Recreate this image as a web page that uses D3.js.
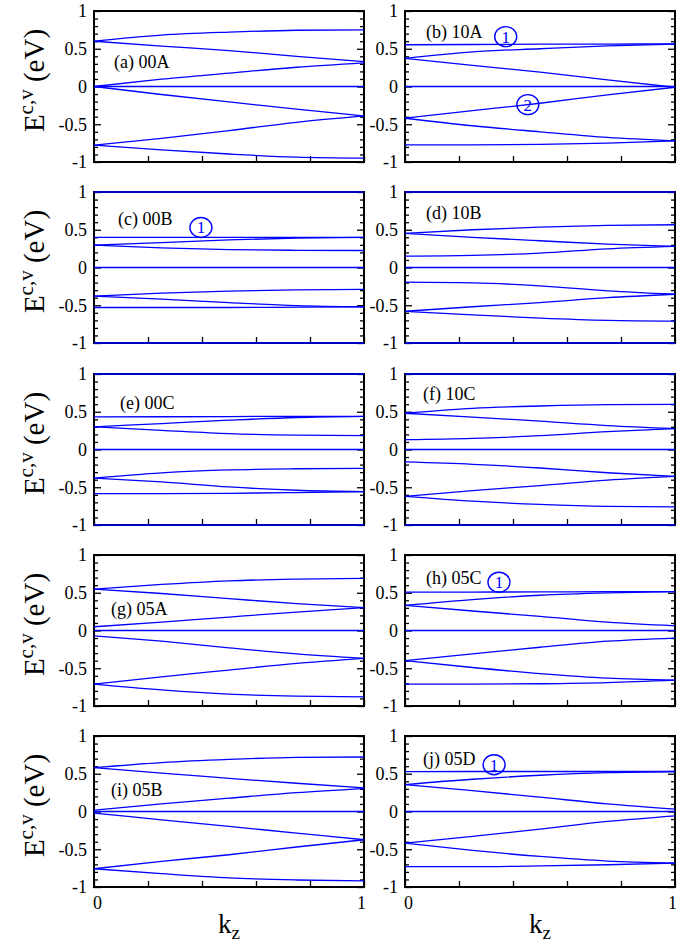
<!DOCTYPE html>
<html>
<head>
<meta charset="utf-8">
<script src="https://cdnjs.cloudflare.com/ajax/libs/d3/7.8.5/d3.min.js"></script>
<style>
  body { margin: 0; background: #fff; }
  text { font-family: "Liberation Serif", "Times New Roman", serif; }
</style>
</head>
<body>
<svg id="chart" width="695" height="945"></svg>
<script>
// k_z sample points (fraction of the zone)
const kz = [0, 0.25, 0.5, 0.75, 1];

// band energies (eV) at each kz sample, one row per band
const bandsA = [
  [0.60, 0.68, 0.72, 0.745, 0.75],
  [0.60, 0.535, 0.475, 0.40, 0.33],
  [0, 0.097, 0.177, 0.255, 0.314],
  [0, 0, 0, 0, 0],
  [0, -0.106, -0.205, -0.30, -0.39],
  [-0.776, -0.686, -0.584, -0.475, -0.39],
  [-0.776, -0.84, -0.894, -0.936, -0.95]
];
const bandsB = [
  [0.553, 0.556, 0.56, 0.562, 0.564],
  [0.373, 0.458, 0.50, 0.538, 0.562],
  [0.373, 0.28, 0.19, 0.089, -0.01],
  [0, 0, 0, 0, 0],
  [-0.42, -0.32, -0.222, -0.11, -0.01],
  [-0.42, -0.52, -0.60, -0.675, -0.72],
  [-0.773, -0.772, -0.766, -0.75, -0.72]
];
const bandsC = [
  [0.40, 0.40, 0.40, 0.40, 0.40],
  [0.296, 0.33, 0.365, 0.39, 0.40],
  [0.296, 0.26, 0.237, 0.228, 0.225],
  [0, 0, 0, 0, 0],
  [-0.38, -0.34, -0.314, -0.296, -0.29],
  [-0.38, -0.42, -0.465, -0.504, -0.52],
  [-0.53, -0.53, -0.53, -0.526, -0.52],
  [1, 1, 1, 1, 1],
  [-1, -1, -1, -1, -1]
];
const bandsD = [
  [0.451, 0.50, 0.535, 0.557, 0.566],
  [0.451, 0.40, 0.354, 0.31, 0.28],
  [0.15, 0.16, 0.19, 0.248, 0.28],
  [0, 0, 0, 0, 0],
  [-0.195, -0.204, -0.243, -0.31, -0.354],
  [-0.58, -0.52, -0.465, -0.40, -0.354],
  [-0.58, -0.628, -0.67, -0.70, -0.71],
  [1, 1, 1, 1, 1],
  [-1, -1, -1, -1, -1]
];
const bandsE = [
  [0.433, 0.434, 0.436, 0.44, 0.44],
  [0.30, 0.344, 0.388, 0.424, 0.44],
  [0.30, 0.254, 0.21, 0.19, 0.183],
  [0, 0, 0, 0, 0],
  [-0.38, -0.31, -0.27, -0.255, -0.25],
  [-0.38, -0.43, -0.496, -0.54, -0.558],
  [-0.585, -0.585, -0.58, -0.57, -0.558],
  [1, 1, 1, 1, 1],
  [-1, -1, -1, -1, -1]
];
const bandsF = [
  [0.48, 0.545, 0.576, 0.594, 0.598],
  [0.48, 0.43, 0.375, 0.317, 0.277],
  [0.13, 0.147, 0.183, 0.237, 0.277],
  [0, 0, 0, 0, 0],
  [-0.165, -0.196, -0.245, -0.308, -0.357],
  [-0.62, -0.545, -0.478, -0.406, -0.357],
  [-0.62, -0.683, -0.728, -0.754, -0.76],
  [1, 1, 1, 1, 1],
  [-1, -1, -1, -1, -1]
];
const bandsG = [
  [0.547, 0.61, 0.658, 0.68, 0.69],
  [0.547, 0.49, 0.422, 0.356, 0.302],
  [0.049, 0.11, 0.178, 0.244, 0.302],
  [0, 0, 0, 0, 0],
  [-0.07, -0.142, -0.23, -0.31, -0.369],
  [-0.71, -0.613, -0.524, -0.436, -0.369],
  [-0.71, -0.787, -0.844, -0.87, -0.88]
];
const bandsH = [
  [0.507, 0.509, 0.511, 0.514, 0.515],
  [0.333, 0.41, 0.467, 0.498, 0.515],
  [0.333, 0.258, 0.187, 0.11, 0.062],
  [0, 0, 0, 0, 0],
  [-0.40, -0.31, -0.222, -0.142, -0.10],
  [-0.40, -0.49, -0.57, -0.631, -0.658],
  [-0.711, -0.71, -0.705, -0.69, -0.658]
];
const bandsI = [
  [0.58, 0.648, 0.69, 0.716, 0.722],
  [0.58, 0.507, 0.44, 0.374, 0.313],
  [0.018, 0.10, 0.176, 0.25, 0.304],
  [0, 0, 0, 0, 0],
  [-0.022, -0.11, -0.198, -0.286, -0.374],
  [-0.758, -0.66, -0.573, -0.47, -0.374],
  [-0.758, -0.824, -0.88, -0.907, -0.92]
];
const bandsJ = [
  [0.529, 0.53, 0.53, 0.53, 0.53],
  [0.357, 0.427, 0.48, 0.515, 0.53],
  [0.357, 0.277, 0.19, 0.10, 0.031],
  [0, 0, 0, 0, 0],
  [-0.418, -0.33, -0.233, -0.132, -0.057],
  [-0.418, -0.515, -0.595, -0.656, -0.683],
  [-0.73, -0.73, -0.72, -0.705, -0.683]
];

const panelBands = [bandsA, bandsB, bandsC, bandsD, bandsE, bandsF, bandsG, bandsH, bandsI, bandsJ];
const panelNames = ["(a) 00A", "(b) 10A", "(c) 00B", "(d) 10B", "(e) 00C",
                    "(f) 10C", "(g) 05A", "(h) 05C", "(i) 05B", "(j) 05D"];
// where each panel name sits, in data units [kz, E]
const namePos = [[0.074, 0.24], [0.078, 0.636], [0.089, 0.565], [0.078, 0.645], [0.096, 0.543],
                 [0.067, 0.65], [0.063, 0.20], [0.078, 0.62], [0.063, 0.21], [0.067, 0.62]];
// circled markers: [panel index, kz, E, number]
const markers = [[1, 0.373, 0.66, "1"], [1, 0.455, -0.24, "2"], [2, 0.396, 0.53, "1"],
                 [7, 0.348, 0.64, "1"], [9, 0.33, 0.62, "1"]];

const yMajor = [-1, -0.5, 0, 0.5, 1];
const yMinor = d3.range(-9, 10).map(d => d / 10).filter(d => Math.abs(d * 2 - Math.round(d * 2)) > 1e-6);
const xMajor = [0, 0.2, 0.4, 0.6, 0.8, 1];

const svg = d3.select('#chart');
const colX = [94, 405];
const rowY = [11, 192, 374, 555, 736];
const W = 270, H = 151;
const blue = '#0000ff';

const x = d3.scaleLinear().domain([0, 1]).range([0, W]);
const y = d3.scaleLinear().domain([-1, 1]).range([H, 0]);
const line = d3.line().x((d, i) => x(kz[i])).y(d => y(d)).curve(d3.curveMonotoneX);

svg.append('defs').append('clipPath').attr('id', 'clip')
  .append('rect').attr('x', -1).attr('y', -1).attr('width', W + 2).attr('height', H + 2);

panelBands.forEach(function (bands, p) {
  const col = p % 2, row = Math.floor(p / 2);
  const g = svg.append('g').attr('transform', 'translate(' + colX[col] + ',' + rowY[row] + ')');

  // left axis, major + minor, ticks pointing inward
  const left = g.append('g').call(d3.axisLeft(y).tickValues(yMajor).tickSize(-7).tickPadding(7)
    .tickFormat(d => String(d)));
  left.selectAll('text').attr('font-size', 18).attr('fill', '#000').style('font-family', '"Liberation Serif", serif');
  g.append('g').call(d3.axisLeft(y).tickValues(yMinor).tickSize(-4).tickFormat(''));
  g.append('g').attr('transform', 'translate(' + W + ',0)')
    .call(d3.axisRight(y).tickValues(yMajor).tickSize(-7).tickFormat(''));
  g.append('g').attr('transform', 'translate(' + W + ',0)')
    .call(d3.axisRight(y).tickValues(yMinor).tickSize(-4).tickFormat(''));

  // bottom axis: labels only for the last row
  const bottom = g.append('g').attr('transform', 'translate(0,' + H + ')')
    .call(d3.axisBottom(x).tickValues(xMajor).tickSize(-6).tickPadding(9)
      .tickFormat(d => (row === 4 && (d === 0 || d === 1)) ? String(d) : ''));
  bottom.selectAll('text').attr('font-size', 18).attr('fill', '#000')
    .style('font-family', '"Liberation Serif", serif')
    .attr('dx', d => d === 0 ? 3 : (d === 1 ? -3 : 0));

  g.selectAll('.domain').remove();
  g.selectAll('.tick line').attr('stroke', '#000').attr('stroke-width', 1.3);

  // frame
  g.append('rect').attr('width', W).attr('height', H)
    .attr('fill', 'none').attr('stroke', '#000').attr('stroke-width', 2);

  // bands
  g.append('g').attr('clip-path', 'url(#clip)')
    .selectAll('path').data(bands).join('path')
    .attr('d', line).attr('fill', 'none').attr('stroke', blue).attr('stroke-width', 1.3);

  // panel name
  g.append('text').attr('x', x(namePos[p][0])).attr('y', y(namePos[p][1]))
    .attr('font-size', 18).attr('fill', '#000').text(panelNames[p]);

  // circled markers
  markers.filter(m => m[0] === p).forEach(function (m) {
    g.append('ellipse').attr('cx', x(m[1])).attr('cy', y(m[2])).attr('rx', 11).attr('ry', 10)
      .attr('fill', 'none').attr('stroke', blue).attr('stroke-width', 1.4);
    g.append('text').attr('x', x(m[1])).attr('y', y(m[2])).attr('dy', '0.35em')
      .attr('text-anchor', 'middle').attr('font-size', 17).attr('fill', blue).text(m[3]);
  });

  // y title on the left column
  if (col === 0) {
    const t = svg.append('text')
      .attr('transform', 'translate(44,' + (rowY[row] + H / 2 - 6) + ') rotate(-90)')
      .attr('text-anchor', 'middle').attr('font-size', 29).attr('fill', '#000');
    t.append('tspan').text('E');
    t.append('tspan').attr('font-size', 21).attr('dy', -11).text('c,v');
    t.append('tspan').attr('dy', 11).text(' (eV)');
  }

  // x title under the last row
  if (row === 4) {
    const t = svg.append('text').attr('x', colX[col] + W / 2).attr('y', 933)
      .attr('text-anchor', 'middle').attr('font-size', 27).attr('fill', '#000');
    t.append('tspan').text('k');
    t.append('tspan').attr('font-size', 19).attr('dy', 6).text('z');
  }
});
</script>
</body>
</html>
